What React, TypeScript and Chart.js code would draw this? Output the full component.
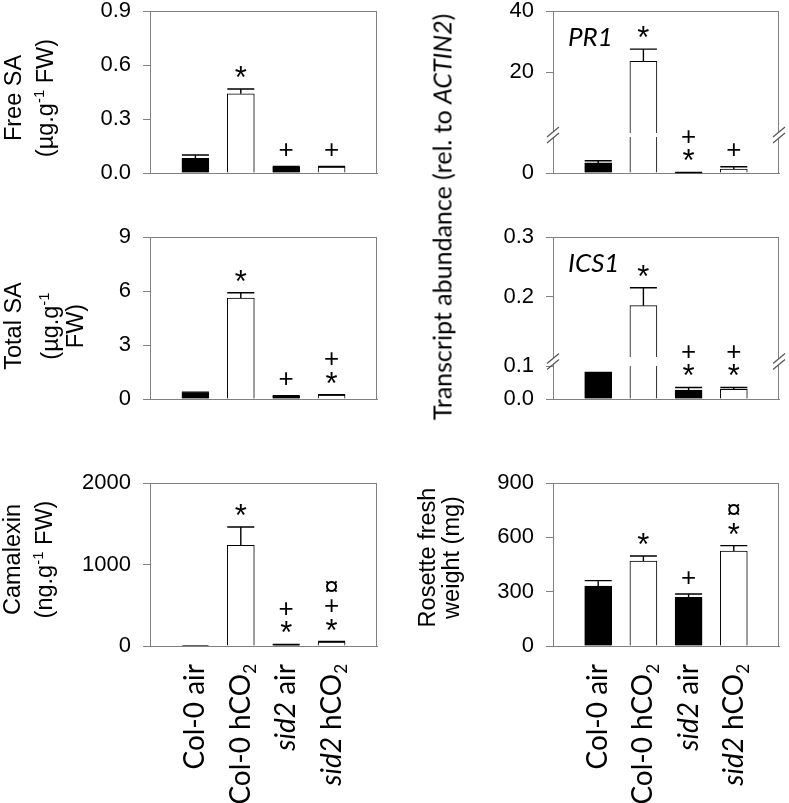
import React, { useEffect, useRef } from 'react';
import { Chart, registerables, LinearScale } from 'chart.js';

Chart.register(...registerables);

// ---------------- data ----------------
const categories = ['Col-0 air', 'Col-0 hCO2', 'sid2 air', 'sid2 hCO2'];
const barColors = ['#000000', '#ffffff', '#000000', '#ffffff'];

const freeSA = [0.082, 0.44, 0.032, 0.033];
const freeSASE = [0.018, 0.027, 0.004, 0.003];
const freeSAMarks = [[], ['*'], ['+'], ['+']];
const freeSATicks = [0, 0.3, 0.6, 0.9];

const totalSA = [0.35, 5.61, 0.15, 0.22];
const totalSASE = [0.03, 0.29, 0.03, 0.02];
const totalSAMarks = [[], ['*'], ['+'], ['*', '+']];
const totalSATicks = [0, 3, 6, 9];

const camalexin = [5, 1235, 15, 49];
const camalexinSE = [0, 225, 5, 6];
const camalexinMarks = [[], ['*'], ['*', '+'], ['*', '+', '¤']];
const camalexinTicks = [0, 1000, 2000];

const pr1 = [2.8, 23.5, 0.1, 1.1];
const pr1SE = [0.6, 4.0, 0.05, 0.65];
const pr1Marks = [[], ['*'], ['*', '+'], ['+']];
const pr1Ticks = [0, 20, 40];

const ics1 = [0.082, 0.1855, 0.027, 0.029];
const ics1SE = [0, 0.03, 0.008, 0.006];
const ics1Marks = [[], ['*'], ['*', '+'], ['*', '+']];
const ics1Ticks = [0, 0.1, 0.2, 0.3];

const rosette = [331, 469, 269, 524];
const rosetteSE = [30, 28, 18, 30];
const rosetteMarks = [[], ['*'], ['+'], ['*', '¤']];
const rosetteTicks = [0, 300, 600, 900];

// ---------------- styles ----------------
const GRAY = '#808080';
const ARIAL = "'Liberation Sans', Arial, sans-serif";
const CAL = "Lato, 'Open Sans', sans-serif";

type Run = { t: string; i?: boolean; sup?: boolean; sub?: boolean };

// Broken linear scale (axis break)
class BrokenScale extends LinearScale {
  static id = 'broken';
  getPixelForValue(value: any) {
    const b = (this.options as any).brk;
    if (!b) return super.getPixelForValue(value);
    if (value === null || value === undefined || isNaN(value)) return NaN;
    const lowTop = this.bottom - b.lowPx;
    if (value <= b.lo) return this.bottom - ((value - this.min) / (b.lo - this.min)) * b.lowPx;
    const upBottom = lowTop - b.gapPx;
    return upBottom - ((value - b.hi) / (this.max - b.hi)) * (upBottom - this.top);
  }
  getValueForPixel(pixel: number) {
    const b = (this.options as any).brk;
    if (!b) return super.getValueForPixel(pixel);
    const lowTop = this.bottom - b.lowPx;
    if (pixel >= lowTop) return this.min + ((this.bottom - pixel) / b.lowPx) * (b.lo - this.min);
    const upBottom = lowTop - b.gapPx;
    return b.hi + ((upBottom - pixel) / (upBottom - this.top)) * (this.max - b.hi);
  }
}
Chart.register(BrokenScale as any);

const cols = [
  { x: 0, w: 395, axisW: 150, padR: 18 },
  { x: 395, w: 394, axisW: 158, padR: 10 },
];
const rows = [
  { y: -22, h: 237, padT: 33, padB: 42 },
  { y: 204, h: 235, padT: 33, padB: 40 },
  { y: 450, h: 353, padT: 33, padB: 157 },
];

function richLabel(cat: string): Run[] {
  const runs: Run[] = [];
  let rest = cat;
  if (rest.startsWith('sid2')) {
    runs.push({ t: 'sid2', i: true });
    rest = rest.slice(4);
  }
  if (rest.endsWith('CO2')) {
    runs.push({ t: rest.slice(0, -1) });
    runs.push({ t: '2', sub: true });
  } else {
    runs.push({ t: rest });
  }
  return runs;
}

function drawRuns(ctx: CanvasRenderingContext2D, runs: Run[], family: string, size: number, align: string) {
  const fontFor = (r: Run) =>
    `${r.i ? 'italic ' : ''}${r.sup || r.sub ? Math.round(size * 0.62) : size}px ${family}`;
  let total = 0;
  const widths = runs.map((r) => {
    ctx.font = fontFor(r);
    const w = ctx.measureText(r.t).width;
    total += w;
    return w;
  });
  let x = align === 'center' ? -total / 2 : align === 'right' ? -total : 0;
  ctx.textAlign = 'left';
  ctx.textBaseline = 'alphabetic';
  runs.forEach((r, k) => {
    ctx.font = fontFor(r);
    const dy = r.sup ? -size * 0.4 : r.sub ? size * 0.22 : 0;
    ctx.fillText(r.t, x, dy);
    x += widths[k];
  });
}

type TitleLine = { runs: Run[]; off: number };
type PanelCfg = {
  key: string;
  col: number;
  row: number;
  values: number[];
  se: number[];
  marks: string[][];
  ticks: number[];
  dec: number;
  max: number;
  brk?: { lo: number; hi: number; lowPx: number; gapPx: number };
  gene?: string;
  title?: TitleLine[];
  titleShift?: number;
  showCats?: boolean;
};

const panels: PanelCfg[] = [
  {
    key: 'free', col: 0, row: 0, values: freeSA, se: freeSASE, marks: freeSAMarks, ticks: freeSATicks, dec: 1, max: 0.9,
    title: [
      { runs: [{ t: 'Free SA' }], off: 129.5 },
      { runs: [{ t: '(µg.g' }, { t: '-1', sup: true }, { t: ' FW)' }], off: 97 },
    ],
    titleShift: 6,
  },
  {
    key: 'pr1', col: 1, row: 0, values: pr1, se: pr1SE, marks: pr1Marks, ticks: pr1Ticks, dec: 0, max: 40,
    brk: { lo: 10, hi: 0, lowPx: 36, gapPx: 4 }, gene: 'PR1',
  },
  {
    key: 'total', col: 0, row: 1, values: totalSA, se: totalSASE, marks: totalSAMarks, ticks: totalSATicks, dec: 0, max: 9,
    title: [
      { runs: [{ t: 'Total SA' }], off: 129 },
      { runs: [{ t: '(µg.g' }, { t: '-1', sup: true }], off: 92 },
      { runs: [{ t: 'FW)' }], off: 67 },
    ],
    titleShift: 8,
  },
  {
    key: 'ics1', col: 1, row: 1, values: ics1, se: ics1SE, marks: ics1Marks, ticks: ics1Ticks, dec: 1, max: 0.3,
    brk: { lo: 0.1, hi: 0.1, lowPx: 33, gapPx: 9 }, gene: 'ICS1',
  },
  {
    key: 'cam', col: 0, row: 2, values: camalexin, se: camalexinSE, marks: camalexinMarks, ticks: camalexinTicks, dec: 0, max: 2000,
    title: [
      { runs: [{ t: 'Camalexin' }], off: 130 },
      { runs: [{ t: '(ng.g' }, { t: '-1', sup: true }, { t: ' FW)' }], off: 98 },
    ],
    titleShift: -5, showCats: true,
  },
  {
    key: 'ros', col: 1, row: 2, values: rosette, se: rosetteSE, marks: rosetteMarks, ticks: rosetteTicks, dec: 0, max: 900,
    title: [
      { runs: [{ t: 'Rosette fresh' }], off: 118.5 },
      { runs: [{ t: 'weight (mg)' }], off: 94 },
    ],
    titleShift: -7, showCats: true,
  },
];

function buildConfig(p: PanelCfg): any {
  const col = cols[p.col];
  const row = rows[p.row];
  const labels = ['', ...categories, ''];
  const data = [null, ...p.values, null];
  const bg = ['#fff', ...barColors, '#fff'];

  const breakPx = (ys: any) => {
    const lowTop = ys.bottom - p.brk!.lowPx;
    const upBottom = lowTop - p.brk!.gapPx;
    return { lowTop, upBottom };
  };

  const decor = {
    id: 'decor_' + p.key,
    afterDatasetsDraw(chart: any) {
      const ctx: CanvasRenderingContext2D = chart.ctx;
      const ys = chart.scales.y;
      const meta = chart.getDatasetMeta(0);
      ctx.save();
      // break gap through tall bars
      if (p.brk) {
        const { lowTop, upBottom } = breakPx(ys);
        p.values.forEach((v, i) => {
          if (v > p.brk!.lo) {
            const el = meta.data[i + 1];
            const w = el.width;
            ctx.fillStyle = '#ffffff';
            ctx.fillRect(el.x - w / 2 - 2, upBottom, w + 4, lowTop - upBottom);
          }
        });
      }
      // error bars
      ctx.strokeStyle = '#000';
      ctx.lineWidth = 1.4;
      p.values.forEach((v, i) => {
        const e = p.se[i];
        if (!e) return;
        const el = meta.data[i + 1];
        const yTop = ys.getPixelForValue(v + e);
        const w = el.width;
        ctx.beginPath();
        ctx.moveTo(el.x, el.y);
        ctx.lineTo(el.x, yTop);
        ctx.moveTo(el.x - w / 2, yTop);
        ctx.lineTo(el.x + w / 2, yTop);
        ctx.stroke();
      });
      // significance markers
      ctx.fillStyle = '#000';
      ctx.textAlign = 'center';
      ctx.textBaseline = 'alphabetic';
      p.values.forEach((v, i) => {
        const el = meta.data[i + 1];
        const yTop = ys.getPixelForValue(v + (p.se[i] || 0));
        p.marks[i].forEach((s, j) => {
          ctx.font = `${s === '*' ? 31 : 26}px ${ARIAL}`;
          const cy = yTop - 17 - j * 19;
          const m = ctx.measureText(s);
          const asc = m.actualBoundingBoxAscent;
          const desc = m.actualBoundingBoxDescent;
          ctx.fillText(s, el.x, cy + (asc - desc) / 2);
        });
      });
      ctx.restore();
    },
    afterDraw(chart: any) {
      const ctx: CanvasRenderingContext2D = chart.ctx;
      const a = chart.chartArea;
      const ys = chart.scales.y;
      const xs = chart.scales.x;
      ctx.save();
      // top and right frame
      ctx.strokeStyle = GRAY;
      ctx.lineWidth = 1;
      ctx.beginPath();
      ctx.moveTo(a.left, Math.round(a.top) + 0.5);
      ctx.lineTo(a.right, Math.round(a.top) + 0.5);
      ctx.moveTo(Math.round(a.right) - 0.5, a.top);
      ctx.lineTo(Math.round(a.right) - 0.5, a.bottom);
      ctx.stroke();
      // axis break marks
      if (p.brk) {
        const { lowTop, upBottom } = breakPx(ys);
        const mid = (upBottom + lowTop) / 2;
        [a.left, a.right].forEach((ax: number) => {
          ctx.fillStyle = '#ffffff';
          ctx.fillRect(ax - 2, mid - 3, 4, 6);
          ctx.strokeStyle = '#555';
          ctx.lineWidth = 1.2;
          [-3, 3].forEach((d) => {
            ctx.beginPath();
            ctx.moveTo(ax - 6, mid + d + 5);
            ctx.lineTo(ax + 6, mid + d - 5);
            ctx.stroke();
          });
        });
      }
      // gene label
      ctx.fillStyle = '#000';
      if (p.gene) {
        ctx.font = `italic 26px ${CAL}`;
        ctx.textAlign = 'left';
        ctx.textBaseline = 'alphabetic';
        ctx.fillText(p.gene, a.left + 15, a.top + 35);
      }
      // y title
      if (p.title) {
        const cy = (a.top + a.bottom) / 2 + (p.titleShift || 0);
        p.title.forEach((ln) => {
          ctx.save();
          ctx.translate(a.left - ln.off, cy);
          ctx.rotate(-Math.PI / 2);
          drawRuns(ctx, ln.runs, ARIAL, 23.5, 'center');
          ctx.restore();
        });
      }
      // category labels
      if (p.showCats) {
        categories.forEach((c, i) => {
          const x = xs.getPixelForValue(i + 1);
          ctx.save();
          ctx.translate(x + 9, a.bottom + 18);
          ctx.rotate(-Math.PI / 2);
          drawRuns(ctx, richLabel(c), CAL, 28, 'right');
          ctx.restore();
        });
      }
      ctx.restore();
    },
  };

  return {
    type: 'bar',
    data: {
      labels,
      datasets: [
        {
          data,
          backgroundColor: bg,
          borderColor: '#000',
          borderWidth: 1,
          barThickness: 27,
        },
      ],
    },
    options: {
      responsive: false,
      animation: false,
      devicePixelRatio: 1,
      layout: { padding: { left: 0, right: col.padR, top: row.padT, bottom: row.padB } },
      plugins: { legend: { display: false }, tooltip: { enabled: false }, title: { display: false } },
      events: [],
      scales: {
        x: {
          type: 'category',
          offset: false,
          grid: { display: false },
          ticks: { display: false },
          border: { display: true, color: GRAY, width: 1 },
          afterFit: (s: any) => {
            s.height = 0;
          },
        },
        y: {
          type: p.brk ? 'broken' : 'linear',
          min: 0,
          max: p.max,
          brk: p.brk,
          afterBuildTicks: (s: any) => {
            s.ticks = p.ticks.map((v) => ({ value: v }));
          },
          afterFit: (s: any) => {
            s.width = col.axisW;
          },
          grid: { display: true, drawOnChartArea: false, drawTicks: true, tickLength: 7, color: GRAY, lineWidth: 1 },
          border: { display: true, color: GRAY, width: 1 },
          ticks: {
            padding: 12,
            color: '#000',
            font: { family: ARIAL, size: 22 },
            callback: (v: any) => Number(v).toFixed(p.dec),
          },
        },
      },
    },
    plugins: [decor],
  };
}

function Panel({ p }: { p: PanelCfg }) {
  const ref = useRef<HTMLCanvasElement>(null);
  const col = cols[p.col];
  const row = rows[p.row];
  useEffect(() => {
    const chart = new Chart(ref.current as HTMLCanvasElement, buildConfig(p));
    return () => chart.destroy();
  }, []);
  return (
    <canvas
      ref={ref}
      width={col.w}
      height={row.h}
      style={{ position: 'absolute', left: col.x, top: row.y, width: col.w, height: row.h }}
    />
  );
}

export default function App() {
  return (
    <div style={{ position: 'absolute', left: 0, top: 0, width: 789, height: 803, background: '#fff', overflow: 'hidden' }}>
      {panels.map((p) => (
        <Panel key={p.key} p={p} />
      ))}
      <div style={{ position: 'absolute', left: 442, top: 217, width: 0, height: 0 }}>
        <span
          style={{
            position: 'absolute',
            left: 0,
            top: 0,
            transform: 'translate(-50%, -50%) rotate(-90deg)',
            whiteSpace: 'nowrap',
            fontFamily: CAL,
            fontSize: 25,
            lineHeight: 1,
            color: '#000',
          }}
        >
          Transcript abundance (rel. to <i>ACTIN2</i>)
        </span>
      </div>
    </div>
  );
}
